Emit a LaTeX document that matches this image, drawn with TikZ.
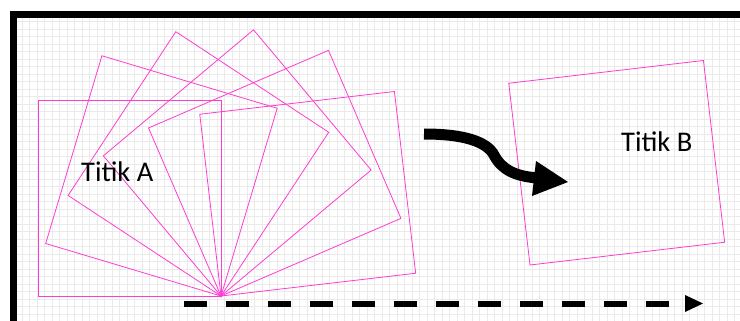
\documentclass[tikz,border=0pt]{standalone}
\usepackage{fontspec}
\setmainfont{Carlito}
\definecolor{pinkline}{RGB}{255,60,210}
\definecolor{gridc}{RGB}{234,234,234}
\begin{document}
\begin{tikzpicture}[x=1pt,y=-1pt,
  sq/.style={draw=pinkline, line width=0.8pt, line join=miter},
  gridline/.style={draw=gridc, line width=0.7pt},
  lbl/.style={font=\fontsize{28.5}{32}\selectfont, inner sep=0pt, anchor=base west},
  bigarrow/.style={draw=black, line width=11pt},
  dasharrow/.style={draw=black, line width=6pt, dash pattern=on 23pt off 19pt}]
\useasboundingbox (0,0) rectangle (740,321);
\fill[white] (0,0) rectangle (740,321);
% grid
\foreach \i in {0,...,97} { \draw[gridline] ({14.5+7.5*\i},18) -- ({14.5+7.5*\i},321); }
\foreach \j in {0,...,40} { \draw[gridline] (17,{21.7+7.5*\j}) -- (740,{21.7+7.5*\j}); }
% frame
\fill[black] (10,11) rectangle (740,18.5);
\fill[black] (10,11) rectangle (17,321);
% fan of rotated squares about the pivot
\coordinate (P) at (221,296);
\foreach \a in {0,16.667,33.333,50,66.667,83.333} {
  \draw[sq, rotate around={-\a:(221,296)}] (38,100) rectangle (221,296);
}
\fill[pinkline] (P) circle (1.6);
% square at B
\draw[sq] (530,265) -- (724.67,242.25) -- (703.43,60.49) -- (508.76,83.24) -- cycle;
% labels
\node[lbl] (titikA) at (81,181) {Titik A};
\node[lbl] (titikB) at (621,151) {Titik B};
% curved arrow
\coordinate (c1) at (424,134);
\coordinate (c2) at (494,155);
\coordinate (c3) at (537,178);
\coordinate (tip1) at (568,182);
\draw[bigarrow] (c1) .. controls (465,134) and (487,142) .. (c2) .. controls (502,170) and (515,176) .. (c3);
\fill[black] (536,161) -- (tip1) -- (532,196) -- cycle;
% dashed arrow
\coordinate (d1) at (184,304);
\coordinate (d2) at (669,304);
\coordinate (tip2) at (703,303.5);
\draw[dasharrow] (d1) -- (d2);
\fill[black] (685,295) -- (tip2) -- (685,312) -- cycle;
\end{tikzpicture}
\end{document}
